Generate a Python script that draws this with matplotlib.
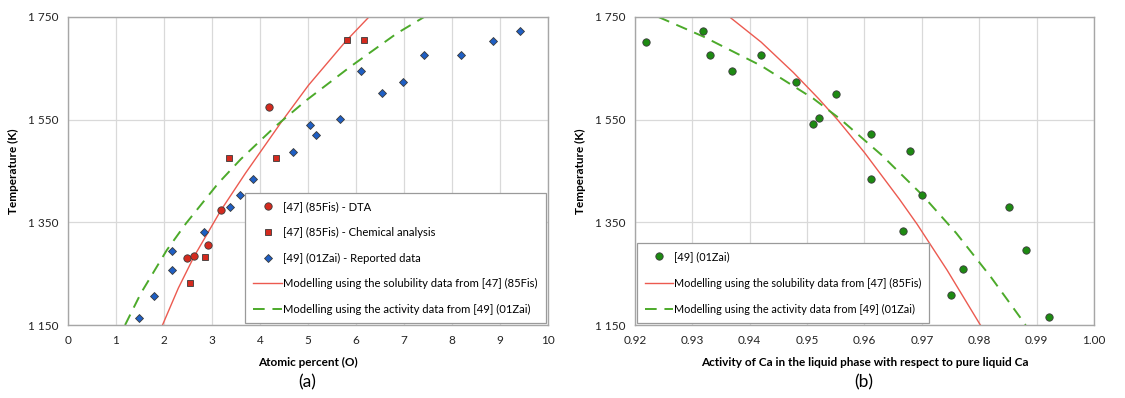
import matplotlib
matplotlib.use('Agg')
import matplotlib.pyplot as plt
from matplotlib.ticker import FuncFormatter, MultipleLocator, FixedLocator

plt.rcParams['font.family'] = ['Lato', 'DejaVu Sans']

# (a) solubility of O in liquid Ca
dta_x = [2.49, 2.63, 2.92, 3.19, 4.19]
dta_t = [1280, 1284, 1305, 1374, 1575]
chem_x = [2.54, 2.86, 3.35, 4.33, 5.82, 6.17]
chem_t = [1232, 1282, 1475, 1475, 1706, 1706]
zai_x = [1.48, 1.79, 2.16, 2.16, 2.83, 3.37, 3.58, 3.85, 4.68, 5.17,
         5.04, 5.67, 6.54, 6.97, 6.11, 7.42, 8.18, 8.85, 9.42]
zai_t = [1164, 1207, 1258, 1295, 1331, 1379, 1403, 1434, 1487, 1521,
         1540, 1552, 1601, 1623, 1645, 1675, 1675, 1703, 1723]
sol_model_x = [1.97, 2.30, 2.63, 3.19, 3.70, 4.45, 5.01, 5.79, 6.27]
sol_model_t = [1150, 1222, 1284, 1374, 1446, 1546, 1617, 1703, 1750]
act_model_x = [1.19, 1.52, 2.06, 2.46, 3.13, 3.60, 4.31, 4.97, 5.88, 6.85, 7.42]
act_model_t = [1150, 1212, 1296, 1348, 1426, 1473, 1536, 1588, 1653, 1718, 1750]

# (b) activity of Ca
zai_a = [0.9921, 0.9750, 0.9771, 0.9881, 0.9667, 0.9852, 0.9701, 0.9611, 0.9680,
         0.9611, 0.9510, 0.9521, 0.9550, 0.9480, 0.9370, 0.9330, 0.9420, 0.9219, 0.9319]
zai_at = [1166, 1209, 1260, 1296, 1333, 1380, 1403, 1435, 1488,
          1522, 1541, 1553, 1600, 1623, 1645, 1675, 1675, 1702, 1723]
sol_model_a = [0.9365, 0.9420, 0.9476, 0.9520, 0.9553, 0.9600, 0.9661, 0.9692, 0.9744, 0.9802]
sol_model_at = [1750, 1701, 1642, 1591, 1550, 1486, 1395, 1346, 1257, 1150]
act_model_a = [0.9241, 0.9319, 0.9420, 0.9511, 0.9558, 0.9630, 0.9701, 0.9760, 0.9820, 0.9881]
act_model_at = [1750, 1712, 1655, 1591, 1551, 1481, 1403, 1329, 1244, 1150]

temp_ticks = [1150, 1350, 1550, 1750]

RED = '#d42a1e'
BLUE = '#1f5fc4'
GREEN = '#1d8a12'
RED_LINE = '#ec5a50'
GREEN_LINE = '#4caa2a'
EDGE = '#3a3a3a'
GRID = '#d9d9d9'


def kelvin(v, pos):
    return '{:,.0f}'.format(v).replace(',', ' ')


def style_axes(ax):
    ax.set_ylim(1150, 1750)
    ax.yaxis.set_major_locator(FixedLocator(temp_ticks))
    ax.yaxis.set_major_formatter(FuncFormatter(kelvin))
    ax.grid(True, color=GRID, linewidth=0.9)
    ax.set_axisbelow(True)
    for s in ax.spines.values():
        s.set_color('#a6a6a6')
        s.set_linewidth(1.0)
    ax.tick_params(length=0, labelsize=8.5, pad=7, colors='#222222')
    ax.set_ylabel('Temperature (K)', fontsize=8.5, fontweight='bold', labelpad=6)


def add_legend(ax, order, loc, size, spacing):
    h, l = ax.get_legend_handles_labels()
    leg = ax.legend([h[i] for i in order], [l[i] for i in order], loc=loc,
                    fontsize=size, labelspacing=spacing, handlelength=2.6, handletextpad=0.1,
                    borderaxespad=0.2, borderpad=0.7, fancybox=False, framealpha=1,
                    edgecolor='#9a9a9a')
    leg.get_frame().set_linewidth(0.9)
    return leg


fig = plt.figure(figsize=(11.25, 3.98), dpi=100)
ax1 = fig.add_axes([0.0604, 0.1834, 0.4267, 0.7739])
ax2 = fig.add_axes([0.5644, 0.1834, 0.4080, 0.7739])

ax1.plot(sol_model_x, sol_model_t, color=RED_LINE, lw=1.0, zorder=2,
         label='Modelling using the solubility data from [47] (85Fis)')
ax1.plot(act_model_x, act_model_t, color=GREEN_LINE, lw=1.4, ls=(0, (6, 4)), zorder=2,
         label='Modelling using the activity data from [49] (01Zai)')
ax1.plot(dta_x, dta_t, 'o', ms=5.3, mfc=RED, mec=EDGE, mew=0.6, zorder=3,
         label='[47] (85Fis) - DTA')
ax1.plot(chem_x, chem_t, 's', ms=4.8, mfc=RED, mec=EDGE, mew=0.6, zorder=3,
         label='[47] (85Fis) - Chemical analysis')
ax1.plot(zai_x, zai_t, 'D', ms=4.3, mfc=BLUE, mec=EDGE, mew=0.6, zorder=3,
         label='[49] (01Zai) - Reported data')
ax1.set_xlim(0, 10)
ax1.xaxis.set_major_locator(MultipleLocator(1))
style_axes(ax1)
ax1.set_xlabel('Atomic percent (O)', fontsize=8.5, fontweight='bold', labelpad=8)
add_legend(ax1, [2, 3, 4, 0, 1], 'lower right', 8.1, 1.3)

ax2.plot(sol_model_a, sol_model_at, color=RED_LINE, lw=1.0, zorder=2,
         label='Modelling using the solubility data from [47] (85Fis)')
ax2.plot(act_model_a, act_model_at, color=GREEN_LINE, lw=1.4, ls=(0, (6, 4)), zorder=2,
         label='Modelling using the activity data from [49] (01Zai)')
ax2.plot(zai_a, zai_at, 'o', ms=5.3, mfc=GREEN, mec=EDGE, mew=0.6, zorder=3,
         label='[49] (01Zai)')
ax2.set_xlim(0.92, 1.00)
ax2.xaxis.set_major_locator(MultipleLocator(0.01))
ax2.xaxis.set_major_formatter(FuncFormatter(lambda v, p: '%.2f' % v))
style_axes(ax2)
ax2.set_xlabel('Activity of Ca in the liquid phase with respect to pure liquid Ca',
               fontsize=8.5, fontweight='bold', labelpad=8)
add_legend(ax2, [2, 0, 1], 'lower left', 7.8, 1.45)

fig.text(0.273, 0.04, '(a)', ha='center', va='center', fontsize=12.5)
fig.text(0.768, 0.04, '(b)', ha='center', va='center', fontsize=12.5)

fig.savefig('out.png', dpi=100)
